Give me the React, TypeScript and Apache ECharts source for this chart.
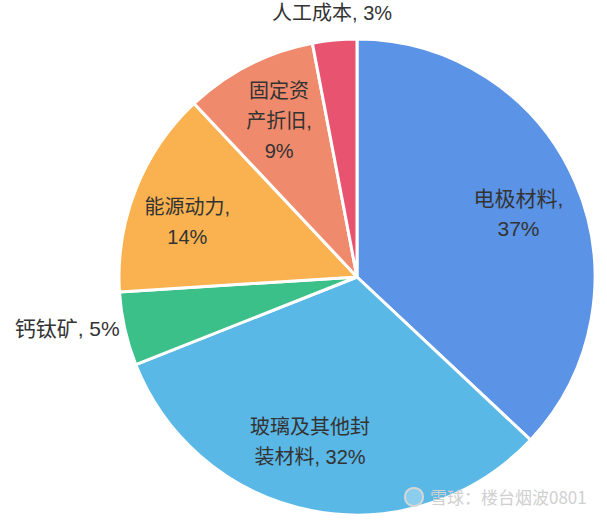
import React, { useEffect, useRef } from "react";
import * as echarts from "echarts";

const categories = ["电极材料", "玻璃及其他封装材料", "钙钛矿", "能源动力", "固定资产折旧", "人工成本"];
const values = [37, 32, 5, 14, 9, 3];
const colors = ["#5b93e6", "#5ab8e6", "#3cc08a", "#f9b24f", "#f08a6c", "#e85470"];
const labelTexts = ["电极材料,\n37%", "玻璃及其他封\n装材料, 32%", "钙钛矿, 5%", "能源动力,\n14%", "固定资\n产折旧,\n9%", "人工成本, 3%"];
const innerLabelIdx = [0, 1, 3, 4];
const outsideLabelIdx = [2];
const topLabelIdx = [5];
// small per-label nudges (px) to match the reference placement
const labelNudge: Record<number, number[]> = { 0: [0, 6], 1: [-14, -8], 3: [-6, 10], 4: [2, 1] };
const labelSize: Record<number, number> = { 0: 21, 2: 21 };

export default function App() {
  const ref = useRef<HTMLDivElement>(null);
  useEffect(() => {
    document.body.style.margin = "0";
    const chart = echarts.init(ref.current!, undefined, { renderer: "svg" });
    const font = "'Liberation Sans', 'Noto Sans CJK SC', sans-serif";
    const center = [357, 277];
    const mkData = (show: number[], visible: boolean) =>
      categories.map((c, i) => ({
        name: c,
        value: values[i],
        itemStyle: visible ? { color: colors[i] } : { color: "rgba(0,0,0,0)", borderWidth: 0 },
        label: {
          show: show.includes(i),
          formatter: labelTexts[i],
          offset: labelNudge[i] || [0, 0],
          fontSize: labelSize[i] || 20,
        },
      }));
    chart.setOption({
      animation: false,
      graphic: [
        {
          type: "circle",
          z: 100,
          shape: { cx: 414, cy: 497, r: 9 },
          style: { fill: "rgba(255,255,255,0.3)", stroke: "#d6d6d6", lineWidth: 2 },
        },
        {
          type: "text",
          z: 100,
          x: 430,
          y: 488,
          style: { text: "雪球：楼台烟波0801", fill: "#d0d0d0", font: "17px 'Noto Sans CJK SC', sans-serif" },
        },
      ],
      series: [
        {
          type: "pie",
          center,
          radius: [0, 238],
          startAngle: 90,
          clockwise: true,
          avoidLabelOverlap: false,
          itemStyle: { borderColor: "#fff", borderWidth: 3 },
          label: { position: "outside", color: "#333", fontFamily: font, distanceToLabelLine: 5 },
          labelLine: { show: false, length: 0, length2: 0 },
          emphasis: { disabled: true },
          data: mkData(outsideLabelIdx, true),
        },
        {
          type: "pie",
          center,
          radius: [0, 346],
          startAngle: 90,
          silent: true,
          avoidLabelOverlap: false,
          label: { position: "inside", lineHeight: 30, color: "#333", fontFamily: font },
          labelLine: { show: false },
          emphasis: { disabled: true },
          data: mkData(innerLabelIdx, false),
        },
        {
          type: "pie",
          center,
          radius: [0, 524],
          startAngle: 90,
          silent: true,
          avoidLabelOverlap: false,
          label: { position: "inside", color: "#333", fontFamily: font },
          labelLine: { show: false },
          emphasis: { disabled: true },
          data: mkData(topLabelIdx, false),
        },
      ],
    });
    return () => chart.dispose();
  }, []);
  return <div ref={ref} style={{ width: 607, height: 524, background: "#fff" }} />;
}
